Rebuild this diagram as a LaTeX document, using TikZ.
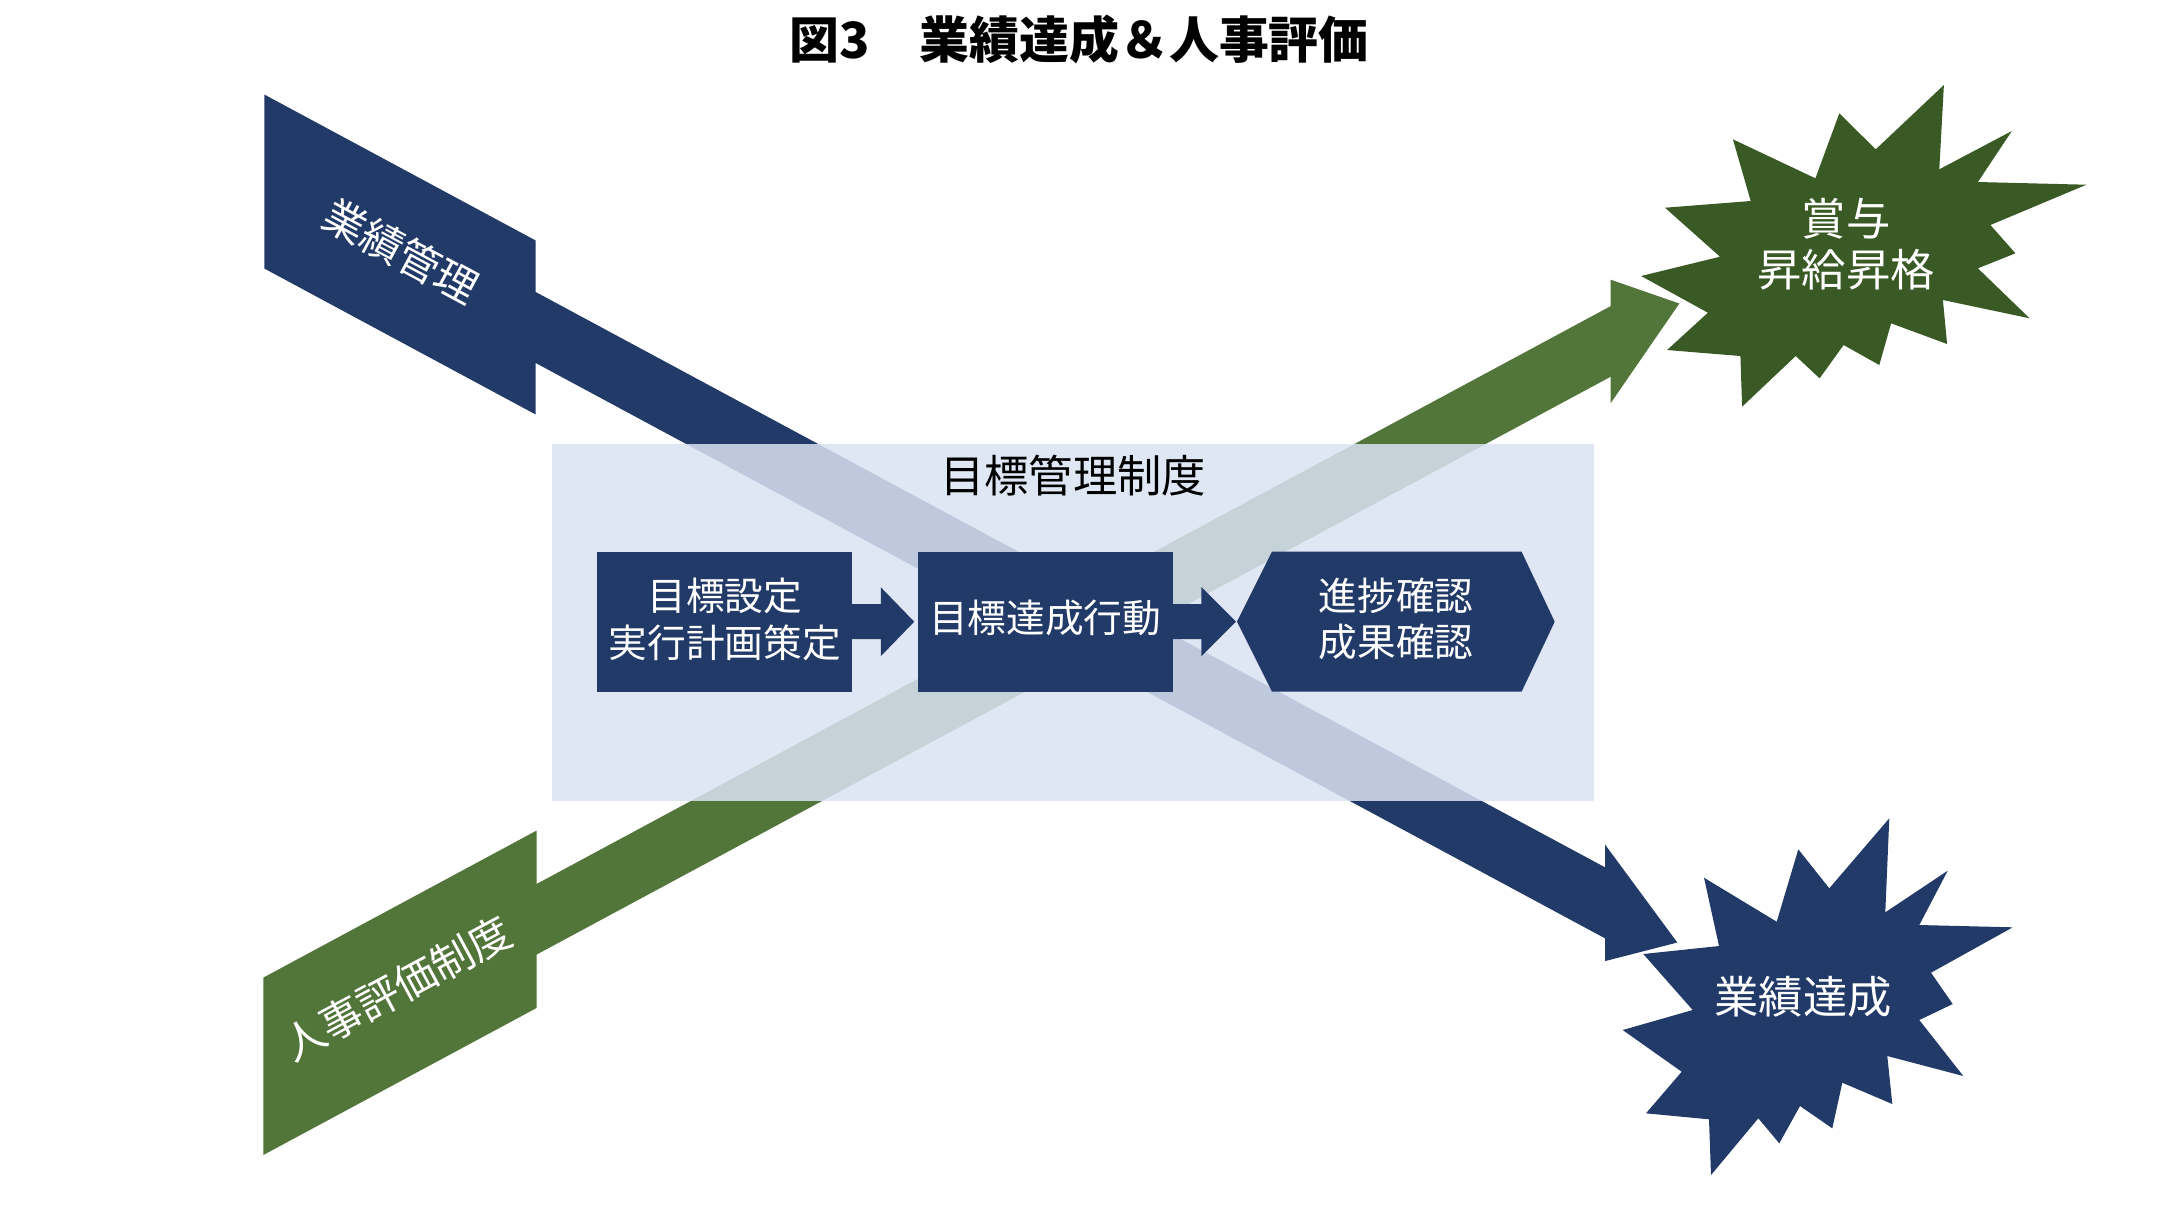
\documentclass[tikz,border=0pt]{standalone}
\usepackage{fontspec}
\setmainfont{Noto Sans CJK JP}
\usetikzlibrary{calc}
\definecolor{navy}{HTML}{223A68}
\definecolor{leaf}{HTML}{52753A}
\definecolor{forest}{HTML}{3A5A25}
\definecolor{pale}{HTML}{DAE3F3}
\begin{document}
\begin{tikzpicture}[x=0.01cm,y=-0.01cm,
  stepbox/.style={fill=navy, minimum width=2.55cm, minimum height=1.4cm, inner sep=0pt},
  steptext/.style={text=white, inner sep=0pt, align=center, font=\fontsize{11}{13.3}\selectfont},
  bandlabel/.style={text=white, inner sep=0pt, font=\fontsize{12}{14}\selectfont},
  burstlabel/.style={text=white, inner sep=0pt, align=center, font=\fontsize{12.6}{14.5}\selectfont},
  blockarrow/.style={fill=navy},
]
\useasboundingbox (0,0) rectangle (2160,1226);
\fill[white] (0,0) rectangle (2160,1226);

% title
\node[inner sep=0pt, font=\fontsize{14.2}{16}\selectfont\bfseries] (title) at (1079,39) {図3　業績達成＆人事評価};

% blue band arrow (業績管理 -> 業績達成)
\fill[navy] (264.3,94.5) -- (535.7,240.5) -- (535.7,292) -- (1605,867.3) -- (1605,844.5)
  -- (1677.3,942.5) -- (1605,961.1) -- (1605,938.3) -- (535.7,363) -- (535.7,414.5)
  -- (264.3,268.5) -- cycle;
% green band arrow (人事評価制度 -> 賞与)
\fill[leaf] (263.3,977.6) -- (536.7,830.5) -- (536.7,883.9) -- (1610.7,306.1) -- (1610.7,279.7)
  -- (1679.3,303.5) -- (1610.7,403.1) -- (1610.7,376.7) -- (536.7,954.5) -- (536.7,1007.9)
  -- (263.3,1155) -- cycle;

\node[bandlabel, rotate=-28.3] (perf) at (401,251) {業績管理};
\node[bandlabel, rotate=28.3] (hr) at (397,988) {人事評価制度};

% MBO container (semi-transparent)
\node[fill=pale, fill opacity=0.85, minimum width=10.42cm, minimum height=3.565cm, inner sep=0pt]
  (mbo) at (1073,622.25) {};
\node[inner sep=0pt, font=\fontsize{12.6}{14.5}\selectfont] (mbotitle) at (1073,476) {目標管理制度};

% steps
\node[stepbox] (b1) at (724.8,621.7) {};
\node[steptext] (b1text) at (724.8,619) {目標設定\\実行計画策定};
\node[stepbox] (b2) at (1045.2,621.7) {};
\node[steptext] (b2text) at (1045.2,617.5) {目標達成行動};
\fill[navy] (1237,621.7) -- (1272,551.7) -- (1521.6,551.7) -- (1554.7,621.7)
  -- (1521.6,691.7) -- (1272,691.7) -- cycle;
\coordinate (hexL) at (1237,621.7);
\node[steptext] (b3) at (1396,619) {進捗確認\\成果確認};

% block arrows between steps
\fill[blockarrow] ($(b1.east)+(-1,-17.5)$) -- ($(b1.east)+(27.7,-17.5)$) -- ($(b1.east)+(27.7,-34.5)$)
  -- ($(b2.west)+(-2.7,0)$) -- ($(b1.east)+(27.7,34.5)$) -- ($(b1.east)+(27.7,17.5)$)
  -- ($(b1.east)+(-1,17.5)$) -- cycle;
\fill[blockarrow] ($(b2.east)+(-1,-17.5)$) -- ($(b2.east)+(28,-17.5)$) -- ($(b2.east)+(28,-34.5)$)
  -- ($(hexL)+(-1,0)$) -- ($(b2.east)+(28,34.5)$) -- ($(b2.east)+(28,17.5)$)
  -- ($(b2.east)+(-1,17.5)$) -- cycle;

% green burst
\fill[forest] (1943.9,85) -- (1939.3,169.3) -- (2011.8,131) -- (1977.9,182) -- (2086.4,184.7)
  -- (1990.4,225) -- (2015.4,253.3) -- (1977.9,268.3) -- (2029.6,318.3) -- (1942.9,300)
  -- (1947.1,344) -- (1891.1,323.3) -- (1879.3,365) -- (1843.6,345) -- (1819.6,378.3)
  -- (1795.7,356) -- (1742.1,406.7) -- (1740.4,356) -- (1667.1,350) -- (1707.9,312.7)
  -- (1641.1,276) -- (1720,256.7) -- (1665,207.7) -- (1750.7,201) -- (1732.9,139.3)
  -- (1815.4,178.3) -- (1839.3,113.3) -- (1875.7,149.3) -- cycle;
\node[burstlabel] (bonus) at (1846,244.5) {賞与\\昇給昇格};

% blue burst
\fill[navy] (1889.3,818.3) -- (1885.3,912.3) -- (1947.7,870.7) -- (1919.3,925) -- (2012.7,927.3)
  -- (1931,972.7) -- (1952.7,1004) -- (1919.3,1020) -- (1963.3,1076) -- (1887.3,1056)
  -- (1892.3,1104) -- (1842.3,1082.7) -- (1832.3,1128.3) -- (1800,1106) -- (1779.3,1143.3)
  -- (1758.3,1118.3) -- (1711,1175) -- (1709,1119.3) -- (1646,1113.3) -- (1681.7,1071.7)
  -- (1622.7,1030) -- (1692.7,1010) -- (1643.3,954) -- (1719,946) -- (1704,877.7)
  -- (1776.7,921.7) -- (1798.3,849.3) -- (1829.3,888.3) -- cycle;
\node[burstlabel] (achieve) at (1803,997) {業績達成};
\end{tikzpicture}
\end{document}
